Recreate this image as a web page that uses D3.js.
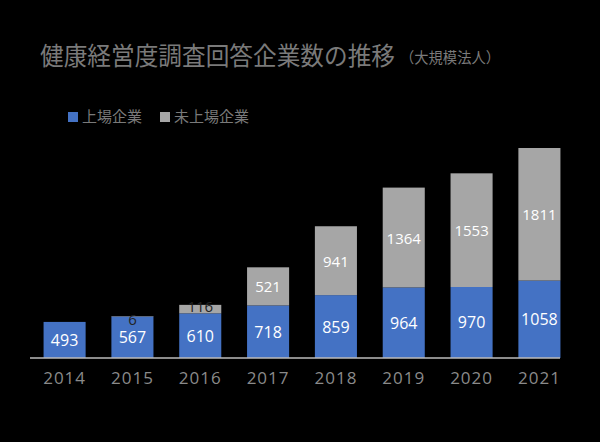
<!DOCTYPE html>
<html><head><meta charset="utf-8">
<script src="https://cdn.jsdelivr.net/npm/d3@7"></script>
<style>body{margin:0;background:#000}</style></head>
<body><div id="chart"></div>
<script>
var years = ["2014","2015","2016","2017","2018","2019","2020","2021"];
var listed = [493,567,610,718,859,964,970,1058];
var unlisted = [0,6,116,521,941,1364,1553,1811];

var width = 600, height = 442;
var svg = d3.select("#chart").append("svg").attr("width", width).attr("height", height)
  .style("font-family", "'Noto Sans CJK JP', 'Noto Sans', sans-serif");
svg.append("rect").attr("width", width).attr("height", height).attr("fill", "#000");

svg.append("text").attr("x", 40).attr("y", 65).attr("fill", "#7a7a7a")
  .attr("font-size", 25).attr("textLength", 355).attr("lengthAdjust", "spacingAndGlyphs")
  .text("健康経営度調査回答企業数の推移");
svg.append("text").attr("x", 400).attr("y", 63).attr("fill", "#7a7a7a")
  .attr("font-size", 15).attr("textLength", 100).attr("lengthAdjust", "spacingAndGlyphs")
  .text("（大規模法人）");

var legend = [["上場企業","#4472c4",68],["未上場企業","#a6a6a6",160]];
legend.forEach(function(l){
  svg.append("rect").attr("x", l[2]).attr("y", 112).attr("width", 10).attr("height", 10).attr("fill", l[1]);
  svg.append("text").attr("x", l[2] + 14).attr("y", 122).attr("fill", "#7a7a7a").attr("font-size", 15).text(l[0]);
});

var x = d3.scaleBand().domain(years).range([30, 574]).paddingInner(0.38).paddingOuter(0.2);
var y = d3.scaleLinear().domain([0, 2869]).range([358, 148]);

var g = svg.append("g");
years.forEach(function(yr, i){
  var x0 = x(yr), bw = x.bandwidth();
  g.append("rect").attr("x", x0).attr("width", bw).attr("y", y(listed[i])).attr("height", y(0) - y(listed[i])).attr("fill", "#4472c4");
  g.append("text").attr("x", x0 + bw/2).attr("y", (y(0) + y(listed[i]))/2 + 6).attr("text-anchor", "middle")
    .attr("fill", "#fff").attr("font-size", 16).attr("font-family", "'Open Sans', sans-serif").text(listed[i]);
  if (unlisted[i] > 0) {
    var top = y(listed[i] + unlisted[i]);
    g.append("rect").attr("x", x0).attr("width", bw).attr("y", top).attr("height", y(listed[i]) - top).attr("fill", "#a6a6a6");
    var small = unlisted[i] < 200;
    g.append("text").attr("x", x0 + bw/2).attr("y", small ? top + 5 + (i == 1 ? 4 : 2) : (top + y(listed[i]))/2 + 6)
      .attr("text-anchor", "middle").attr("fill", small ? "#222" : "#fff").attr("font-size", 15)
      .attr("font-family", "'Open Sans', sans-serif").text(unlisted[i]);
  }
});

svg.append("line").attr("x1", 30).attr("x2", 560).attr("y1", 358).attr("y2", 358).attr("stroke", "#bbb").attr("stroke-width", 1.5);

var ax = svg.append("g").attr("transform", "translate(0,358)").call(d3.axisBottom(x).tickSize(0).tickPadding(14));
ax.select(".domain").remove();
ax.selectAll("text").attr("fill", "#8a8a8a").attr("font-size", 17).attr("letter-spacing", 1)
  .attr("font-family", "'Open Sans', sans-serif");
</script></body></html>
